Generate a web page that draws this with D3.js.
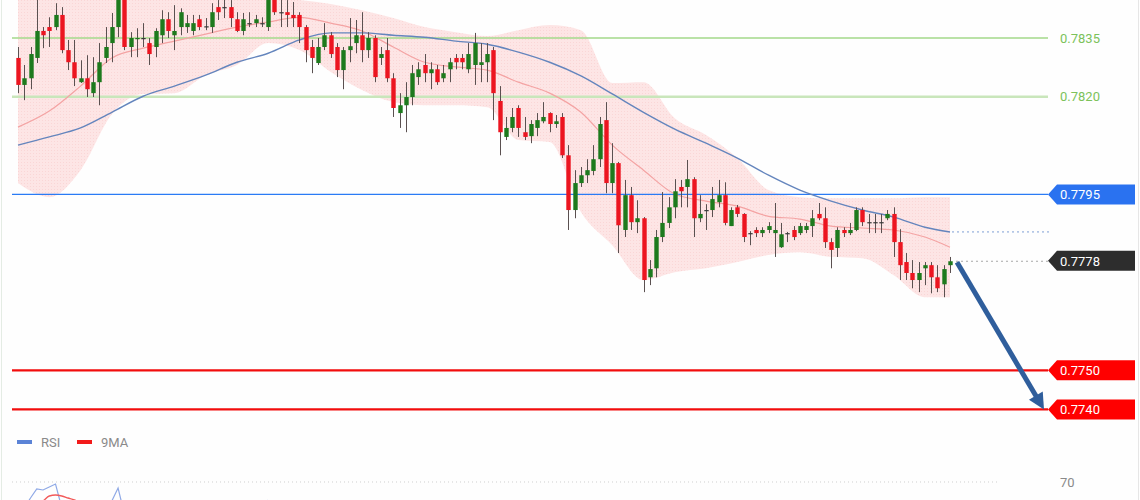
<!DOCTYPE html>
<html><head><meta charset="utf-8">
<script src="https://cdn.jsdelivr.net/npm/d3@7"></script>
<style>html,body{margin:0;padding:0;background:#fff;overflow:hidden}svg{display:block;font-family:Roboto,"Liberation Sans",Arial,sans-serif}</style>
</head><body><svg id="c" width="1140" height="500"></svg>
<script>
// ---- candle data (price) ----
const opens = [0.78299,0.78230,0.78247,0.78299,0.78368,0.78378,0.78378,0.78409,0.78319,0.78288,0.78237,0.78247,0.78209,0.78237,0.78299,0.78337,0.78378,0.78452,0.78327,0.78347,0.78350,0.78337,0.78327,0.78357,0.78398,0.78357,0.78378,0.78378,0.78368,0.78398,0.78380,0.78378,0.78429,0.78429,0.78429,0.78398,0.78368,0.78388,0.78388,0.78388,0.78378,0.78450,0.78416,0.78416,0.78409,0.78409,0.78378,0.78327,0.78286,0.78327,0.78357,0.78327,0.78268,0.78319,0.78337,0.78357,0.78319,0.78350,0.78299,0.78319,0.78247,0.78158,0.78178,0.78199,0.78250,0.78281,0.78260,0.78270,0.78247,0.78270,0.78299,0.78299,0.78270,0.78281,0.78281,0.78288,0.78319,0.78189,0.78097,0.78120,0.78171,0.78109,0.78099,0.78120,0.78137,0.78158,0.78130,0.78148,0.78050,0.77910,0.77979,0.77999,0.78010,0.78040,0.78140,0.77979,0.78030,0.77859,0.77948,0.77879,0.77889,0.77738,0.77761,0.77841,0.77877,0.77917,0.77969,0.77969,0.77989,0.77889,0.77910,0.77910,0.77930,0.77948,0.77869,0.77917,0.77900,0.77851,0.77859,0.77851,0.77859,0.77851,0.77815,0.77851,0.77859,0.77851,0.77859,0.77869,0.77900,0.77889,0.77828,0.77813,0.77859,0.77851,0.77859,0.77910,0.77879,0.77879,0.77879,0.77889,0.77900,0.77828,0.77777,0.77749,0.77731,0.77761,0.77769,0.77738,0.77720,0.77769];
const highs = [0.78327,0.78281,0.78327,0.78460,0.78378,0.78403,0.78439,0.78429,0.78345,0.78345,0.78293,0.78306,0.78301,0.78337,0.78378,0.78414,0.78467,0.78460,0.78365,0.78375,0.78388,0.78350,0.78375,0.78421,0.78416,0.78434,0.78426,0.78409,0.78409,0.78409,0.78401,0.78439,0.78447,0.78450,0.78447,0.78416,0.78414,0.78416,0.78409,0.78403,0.78460,0.78455,0.78450,0.78447,0.78442,0.78416,0.78383,0.78345,0.78350,0.78388,0.78365,0.78337,0.78327,0.78401,0.78396,0.78416,0.78365,0.78357,0.78327,0.78350,0.78260,0.78209,0.78237,0.78281,0.78288,0.78309,0.78288,0.78281,0.78281,0.78299,0.78309,0.78309,0.78337,0.78363,0.78337,0.78337,0.78327,0.78227,0.78148,0.78171,0.78178,0.78148,0.78140,0.78158,0.78186,0.78160,0.78153,0.78158,0.78076,0.78012,0.78020,0.78040,0.78076,0.78148,0.78186,0.78081,0.78033,0.77987,0.77969,0.77935,0.77892,0.77782,0.77859,0.77956,0.77943,0.77989,0.77987,0.78038,0.77994,0.77948,0.77925,0.77969,0.77987,0.77981,0.77917,0.77923,0.77902,0.77856,0.77866,0.77866,0.77879,0.77928,0.77877,0.77854,0.77869,0.77877,0.77877,0.77910,0.77928,0.77917,0.77838,0.77866,0.77866,0.77877,0.77917,0.77917,0.77900,0.77900,0.77900,0.77910,0.77917,0.77861,0.77800,0.77782,0.77777,0.77777,0.77777,0.77769,0.77769,0.77790];
const lows = [0.78209,0.78191,0.78219,0.78286,0.78324,0.78327,0.78370,0.78311,0.78268,0.78227,0.78235,0.78199,0.78199,0.78178,0.78286,0.78288,0.78352,0.78319,0.78301,0.78301,0.78327,0.78281,0.78301,0.78337,0.78350,0.78319,0.78357,0.78363,0.78357,0.78370,0.78370,0.78363,0.78396,0.78401,0.78378,0.78365,0.78357,0.78378,0.78378,0.78378,0.78368,0.78409,0.78378,0.78378,0.78378,0.78337,0.78288,0.78260,0.78281,0.78319,0.78299,0.78250,0.78219,0.78288,0.78311,0.78288,0.78299,0.78237,0.78281,0.78237,0.78148,0.78120,0.78109,0.78178,0.78230,0.78237,0.78219,0.78230,0.78237,0.78237,0.78270,0.78270,0.78260,0.78230,0.78237,0.78237,0.78140,0.78050,0.78089,0.78109,0.78097,0.78089,0.78081,0.78099,0.78132,0.78109,0.78120,0.78043,0.77859,0.77889,0.77969,0.77979,0.77999,0.78020,0.77953,0.77953,0.77800,0.77841,0.77859,0.77851,0.77700,0.77718,0.77738,0.77828,0.77864,0.77889,0.77917,0.77917,0.77841,0.77879,0.77859,0.77892,0.77917,0.77871,0.77869,0.77892,0.77828,0.77820,0.77841,0.77841,0.77851,0.77790,0.77813,0.77828,0.77833,0.77846,0.77851,0.77841,0.77884,0.77813,0.77761,0.77790,0.77841,0.77846,0.77856,0.77869,0.77851,0.77851,0.77851,0.77884,0.77790,0.77731,0.77731,0.77710,0.77700,0.77718,0.77697,0.77700,0.77687,0.77749];
const closes = [0.78230,0.78247,0.78309,0.78368,0.78357,0.78368,0.78409,0.78319,0.78288,0.78247,0.78247,0.78219,0.78237,0.78288,0.78327,0.78378,0.78452,0.78327,0.78350,0.78350,0.78350,0.78309,0.78368,0.78398,0.78368,0.78368,0.78416,0.78388,0.78388,0.78378,0.78380,0.78416,0.78416,0.78429,0.78401,0.78368,0.78398,0.78388,0.78398,0.78388,0.78450,0.78416,0.78416,0.78409,0.78401,0.78378,0.78319,0.78299,0.78327,0.78357,0.78309,0.78268,0.78319,0.78329,0.78357,0.78319,0.78350,0.78250,0.78309,0.78247,0.78171,0.78178,0.78199,0.78260,0.78270,0.78260,0.78270,0.78237,0.78260,0.78288,0.78288,0.78288,0.78309,0.78337,0.78288,0.78309,0.78209,0.78109,0.78120,0.78148,0.78120,0.78097,0.78130,0.78140,0.78148,0.78130,0.78137,0.78050,0.77910,0.77979,0.77999,0.78012,0.78040,0.78130,0.77979,0.78030,0.77871,0.77948,0.77879,0.77889,0.77731,0.77759,0.77841,0.77877,0.77917,0.77958,0.77958,0.77989,0.77889,0.77900,0.77910,0.77938,0.77948,0.77877,0.77910,0.77900,0.77841,0.77851,0.77851,0.77859,0.77869,0.77859,0.77848,0.77851,0.77841,0.77869,0.77869,0.77889,0.77889,0.77828,0.77808,0.77859,0.77851,0.77859,0.77910,0.77879,0.77879,0.77879,0.77879,0.77900,0.77828,0.77769,0.77749,0.77731,0.77749,0.77769,0.77738,0.77710,0.77759,0.77779];

// ---- indicator samples (candle index -> price) ----
const bandIdx   = [0,5,10,15,20,25,30,35,40,45,50,55,60,65,70,75,80,85,90,95,100,105,110,115,120,125,130,135,140,145,149];
const bandUpper = [0.78511,0.78493,0.78467,0.78457,0.78455,0.78457,0.78457,0.78455,0.78452,0.78447,0.78437,0.78421,0.78401,0.78378,0.78365,0.78355,0.78370,0.78383,0.78370,0.78235,0.78237,0.78145,0.78102,0.78043,0.77961,0.77943,0.77940,0.77940,0.77940,0.77943,0.77943];
const bandLower = [0.77979,0.77943,0.78012,0.78155,0.78207,0.78209,0.78255,0.78281,0.78337,0.78319,0.78263,0.78217,0.78186,0.78178,0.78178,0.78173,0.78089,0.78084,0.77905,0.77820,0.77731,0.77751,0.77761,0.77777,0.77795,0.77802,0.77790,0.77787,0.77743,0.77687,0.77687];
const maFast    = [0.78122,0.78163,0.78227,0.78299,0.78324,0.78342,0.78360,0.78378,0.78391,0.78403,0.78388,0.78368,0.78327,0.78288,0.78276,0.78268,0.78237,0.78209,0.78160,0.78076,0.78012,0.77951,0.77933,0.77920,0.77894,0.77887,0.77869,0.77864,0.77859,0.77841,0.77815];
const maSlow    = [0.78076,0.78097,0.78120,0.78160,0.78201,0.78227,0.78255,0.78288,0.78311,0.78345,0.78363,0.78363,0.78357,0.78352,0.78342,0.78334,0.78314,0.78288,0.78253,0.78207,0.78160,0.78117,0.78081,0.78043,0.77999,0.77961,0.77933,0.77910,0.77892,0.77866,0.77854];

// ---- levels ----
const levelPrices = [0.7835, 0.7820, 0.7795, 0.7778, 0.7750, 0.7740];
const levelLabels = ["0.7835","0.7820","0.7795","0.7778","0.7750","0.7740"];
const targetPrice = 0.7740;

// ---- RSI panel ----
const rsiValues = [50,57,62,66.5,66,67.5,69,57,50,46,44,47,45,49,52,60.5,67,54,47,44,46,48,45,43,47,52,50,53,55,52,54,51,53,55,57,56,52,55,58,57,61];
const rsiMA     = [54,55.5,57,58.5,60.5,63,63.5,63,62,61,59.5,57,55,53,52,52.5,54,55,55,53,51,49,48,47,47,48,49,50,51,51,52,52,53,53,54,54,55,55,55,56,56];
const rsiTicks  = [70];
const legendNames = ["RSI","9MA"];

const W = 1140, H = 500;
const svg = d3.select('#c');
const x = d3.scaleLinear().domain([0, opens.length - 1]).range([18, 950]);
const y = d3.scaleLinear().domain([0.7740, 0.7835]).range([409.45, 38]);
const yr = d3.scaleLinear().domain([30, 70]).range([562, 482]);

svg.append('rect').attr('width', W).attr('height', H).attr('fill', '#fefefe');
svg.append('line').attr('x1', 1.5).attr('x2', 1.5).attr('y1', 0).attr('y2', H).attr('stroke', '#e4ece4');
svg.append('line').attr('x1', 1138.5).attr('x2', 1138.5).attr('y1', 0).attr('y2', H).attr('stroke', '#e6e6e6');

// pattern for band
const defs = svg.append('defs');
const pat = defs.append('pattern').attr('id', 'dots').attr('width', 3).attr('height', 3).attr('patternUnits', 'userSpaceOnUse');
pat.append('rect').attr('width', 3).attr('height', 3).attr('fill', '#fde5e5');
pat.append('rect').attr('width', 1).attr('height', 1).attr('fill', '#fad6d6');

const bandData = bandIdx.map((i, k) => ({i, up: bandUpper[k], lo: bandLower[k], f: maFast[k], s: maSlow[k]}));
svg.append('path').datum(bandData)
  .attr('d', d3.area().x(d => x(d.i)).y0(d => y(d.lo)).y1(d => y(d.up)).curve(d3.curveMonotoneX))
  .attr('fill', 'url(#dots)');

// horizontal levels
const lineStyles = [
  {stroke: '#a3d98a', w: 1.3, label: 'text', color: '#7cc25a'},
  {stroke: '#c9e6bb', w: 2.5, label: 'text', color: '#7cc25a'},
  {stroke: '#2a7bf5', w: 1.2, label: 'box', color: '#2a72f0'},
  {stroke: null, w: 0, label: 'box', color: '#2d2d2d'},
  {stroke: '#f20d0d', w: 2.2, label: 'box', color: '#ff0000'},
  {stroke: '#f20d0d', w: 2.2, label: 'box', color: '#ff0000'}
];
levelPrices.forEach((p, k) => {
  const st = lineStyles[k];
  const yy = y(p);
  if (st.stroke) {
    svg.append('line').attr('x1', 12).attr('x2', 1048).attr('y1', yy).attr('y2', yy)
      .attr('stroke', st.stroke).attr('stroke-width', st.w);
  }
});

// MA lines
svg.append('path').datum(bandData)
  .attr('d', d3.line().x(d => x(d.i)).y(d => y(d.f)).curve(d3.curveMonotoneX))
  .attr('fill', 'none').attr('stroke', '#f4a3a3').attr('stroke-width', 1.2);
svg.append('path').datum(bandData)
  .attr('d', d3.line().x(d => x(d.i)).y(d => y(d.s)).curve(d3.curveMonotoneX))
  .attr('fill', 'none').attr('stroke', '#6485bd').attr('stroke-width', 1.4);

// dotted continuations
const last = opens.length - 1;
svg.append('line').attr('x1', x(last) + 2).attr('x2', 1050)
  .attr('y1', y(maSlow[maSlow.length - 1])).attr('y2', y(maSlow[maSlow.length - 1]))
  .attr('stroke', '#7d9fd4').attr('stroke-width', 1).attr('stroke-dasharray', '2,3');
svg.append('line').attr('x1', x(last) + 6).attr('x2', 1048)
  .attr('y1', y(closes[last])).attr('y2', y(closes[last]))
  .attr('stroke', '#a8a8a8').attr('stroke-width', 1).attr('stroke-dasharray', '2,3');

// candles
const cg = svg.append('g');
opens.forEach((o, i) => {
  const c = closes[i], cx = Math.round(x(i));
  cg.append('line').attr('x1', cx + 0.5).attr('x2', cx + 0.5)
    .attr('y1', y(highs[i])).attr('y2', y(lows[i]))
    .attr('stroke', '#5a5050').attr('stroke-width', 1);
  const top = y(Math.max(o, c)), bot = y(Math.min(o, c));
  const col = c > o ? '#1d7a1d' : (c < o ? '#ec1520' : '#3a3a3a');
  cg.append('rect').attr('x', cx - 1.7).attr('width', 4.4)
    .attr('y', top).attr('height', Math.max(1.2, bot - top)).attr('fill', col);
});

// labels on right
levelPrices.forEach((p, k) => {
  const st = lineStyles[k];
  const yy = y(p);
  if (st.label === 'box') {
    svg.append('path')
      .attr('d', `M1048,${yy} L1057,${yy - 10} L1135,${yy - 10} L1135,${yy + 10} L1057,${yy + 10} Z`)
      .attr('fill', st.color);
    svg.append('text').attr('x', 1060).attr('y', yy).attr('dy', '0.36em')
      .attr('font-size', 13).attr('fill', '#fff').text(levelLabels[k]);
  } else {
    svg.append('text').attr('x', 1060).attr('y', yy).attr('dy', '0.36em')
      .attr('font-size', 13).attr('fill', st.color).text(levelLabels[k]);
  }
});

// arrow from last close to target
const sx = x(last) + 7, sy = y(closes[last]) + 1;
const tx = 1044, ty = y(targetPrice);
const len = Math.hypot(tx - sx, ty - sy), ux = (tx - sx) / len, uy = (ty - sy) / len;
const hl = 16, hw = 8;
const bx = tx - ux * hl, by = ty - uy * hl;
svg.append('line').attr('x1', sx).attr('y1', sy).attr('x2', bx + ux * 2).attr('y2', by + uy * 2)
  .attr('stroke', '#2f5e9c').attr('stroke-width', 5);
svg.append('path')
  .attr('d', `M${tx},${ty} L${bx - uy * hw},${by + ux * hw} L${bx + uy * hw},${by - ux * hw} Z`)
  .attr('fill', '#2f5e9c');

// RSI legend
const legColors = ['#5b83d6', '#f21a1a'];
legendNames.forEach((n, k) => {
  const lx = 17 + k * 60;
  svg.append('rect').attr('x', lx).attr('y', 440).attr('width', 15).attr('height', 4).attr('fill', legColors[k]);
  svg.append('text').attr('x', lx + 24).attr('y', 442).attr('dy', '0.36em')
    .attr('font-size', 13).attr('fill', '#8a8a8a').text(n);
});

// RSI panel
rsiTicks.forEach(t => {
  svg.append('line').attr('x1', 12).attr('x2', 1000).attr('y1', yr(t)).attr('y2', yr(t))
    .attr('stroke', '#cfcfcf').attr('stroke-width', 1).attr('stroke-dasharray', '1,3');
  svg.append('text').attr('x', 1060).attr('y', yr(t)).attr('dy', '0.36em')
    .attr('font-size', 13).attr('fill', '#8a8a8a').text(t);
});
svg.append('path').datum(rsiValues)
  .attr('d', d3.line().x((d, i) => x(i)).y(d => yr(d)))
  .attr('fill', 'none').attr('stroke', '#8fa9e6').attr('stroke-width', 1.2);
svg.append('path').datum(rsiMA)
  .attr('d', d3.line().x((d, i) => x(i)).y(d => yr(d)).curve(d3.curveMonotoneX))
  .attr('fill', 'none').attr('stroke', '#f25a5a').attr('stroke-width', 1.4);
</script>
</body></html>
